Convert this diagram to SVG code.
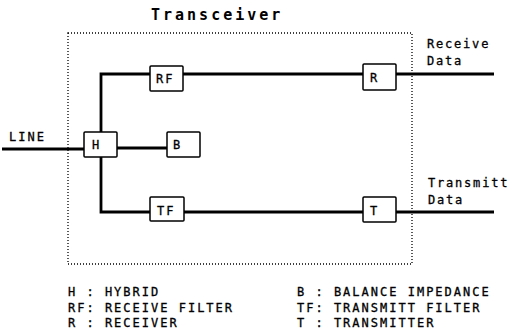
<svg xmlns="http://www.w3.org/2000/svg" width="509" height="330" viewBox="0 0 509 330">
<style>
.bg{fill:#fff}
.box{fill:#fff;stroke:#000;stroke-width:1.5}
.wire{fill:none;stroke:#000;stroke-width:2.8;stroke-linejoin:miter}
.frame{fill:none;stroke:#000;stroke-width:1.3;stroke-dasharray:1 2}
.t{font-family:"DejaVu Sans Mono",monospace;font-size:12px;letter-spacing:2px;fill:#000;stroke:#000;stroke-width:0.3}
.title{font-family:"DejaVu Sans Mono",monospace;font-size:15px;font-weight:bold;letter-spacing:3px;fill:#000}
</style>
<rect class="bg" x="0" y="0" width="509" height="330"/>
<rect class="frame" x="68" y="33" width="344" height="231"/>
<text class="title" x="151" y="20">Transceiver</text>
<g id="connectors">
<path class="wire" d="M2,149 H84"/>
<path class="wire" d="M101,132 V74 H150"/>
<path class="wire" d="M183,74 H363"/>
<path class="wire" d="M396,74 H494"/>
<path class="wire" d="M117,148 H167"/>
<path class="wire" d="M101,157 V212 H150"/>
<path class="wire" d="M184,212 H363"/>
<path class="wire" d="M396,212 H494"/>
</g>
<g id="H"><rect class="box" x="84" y="132" width="33" height="25" rx="1"/><text class="t" x="92" y="149">H</text></g>
<g id="RF"><rect class="box" x="150" y="66" width="33" height="25" rx="1"/><text class="t" x="156" y="83">RF</text></g>
<g id="R"><rect class="box" x="363" y="64" width="33" height="26" rx="1"/><text class="t" x="370" y="82">R</text></g>
<g id="B"><rect class="box" x="167" y="132" width="33" height="25" rx="1"/><text class="t" x="173" y="149">B</text></g>
<g id="TF"><rect class="box" x="150" y="197" width="34" height="24" rx="1"/><text class="t" x="157" y="215">TF</text></g>
<g id="T"><rect class="box" x="363" y="197" width="33" height="25" rx="1"/><text class="t" x="370" y="215">T</text></g>
<text class="t" x="9" y="141">LINE</text>
<text class="t" x="427" y="48" style="letter-spacing:1.8px">Receive</text>
<text class="t" x="427" y="65" style="letter-spacing:1.8px">Data</text>
<text class="t" x="428" y="187" style="letter-spacing:1.8px">Transmitt</text>
<text class="t" x="428" y="204" style="letter-spacing:1.8px">Data</text>
<g id="legend">
<text class="t" x="68" y="296" xml:space="preserve">H : HYBRID</text>
<text class="t" x="68" y="312" xml:space="preserve">RF: RECEIVE FILTER</text>
<text class="t" x="68" y="327" xml:space="preserve">R : RECEIVER</text>
<text class="t" x="297" y="296" xml:space="preserve">B : BALANCE IMPEDANCE</text>
<text class="t" x="297" y="312" xml:space="preserve">TF: TRANSMITT FILTER</text>
<text class="t" x="297" y="327" xml:space="preserve">T : TRANSMITTER</text>
</g>
</svg>
